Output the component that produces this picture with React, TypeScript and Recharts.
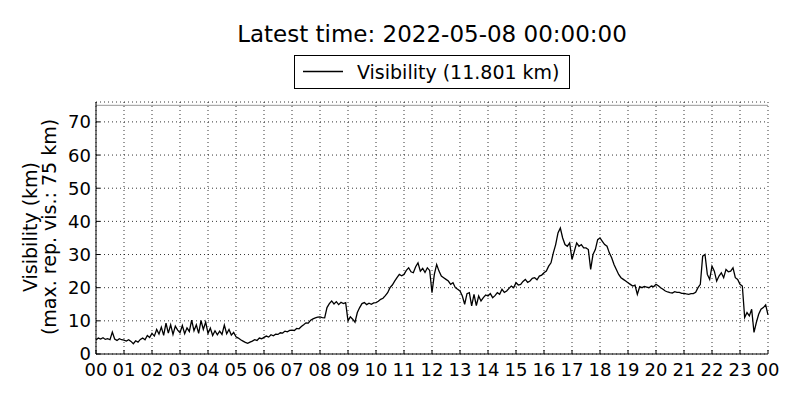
import { CartesianGrid, Label, Line, LineChart, ReferenceLine, XAxis, YAxis } from "recharts"

const FONT = "'DejaVu Sans', sans-serif"

// visibility (km), one reading every 5 minutes from 00:00 to 24:00
const visibility = [
  4.2, 4.8, 4.5, 4.9, 4.4, 4.6, 4.3, 6.6, 4.5, 4.1, 4.6, 4.3,
  4.2, 3.9, 4.3, 3.8, 3.1, 4.0, 3.6, 4.4, 4.8, 4.3, 5.6, 5.0,
  6.2, 5.4, 7.4, 6.0, 8.1, 5.6, 9.3, 6.3, 8.8, 5.9, 8.4, 7.2,
  6.4, 8.6, 6.1, 7.9, 6.8, 10.2, 7.0, 8.8, 6.2, 10.1, 7.4, 9.6,
  6.2, 7.8, 5.6, 7.0, 5.8, 6.9, 5.9, 8.7, 6.1, 7.4, 5.7, 6.5,
  5.2, 4.8, 4.3, 3.9, 3.5, 3.2, 3.6, 3.9, 4.3, 4.1, 4.8, 4.6,
  5.0, 5.4, 5.1, 5.8, 5.5, 6.0, 5.9, 6.4, 6.3, 6.9, 6.7, 7.1,
  7.2, 7.1, 7.7, 7.6, 8.3, 8.8, 9.4, 9.3, 10.2, 10.6, 10.9, 11.1,
  11.2, 11.0, 10.9, 14.0, 15.2, 16.0, 15.1, 15.8, 14.9, 15.6, 15.2, 15.5,
  10.0, 11.2, 10.5, 9.6, 12.5, 14.0, 15.2, 15.5, 14.9, 15.3, 15.0, 15.4,
  15.5, 15.9, 16.5, 16.8, 17.6, 18.5, 20.0, 20.8, 22.0, 23.0, 24.0, 23.6,
  24.0, 25.2, 26.0, 24.8, 24.5, 26.3, 27.5, 25.0, 25.8, 24.6, 26.0, 25.2,
  18.5, 24.0, 27.0, 25.0, 23.5, 23.0, 22.5, 22.0, 21.0, 21.5, 20.0, 19.5,
  19.0, 17.5, 15.0, 18.2, 18.5, 14.5, 18.0, 14.6, 17.5, 16.0, 17.0, 17.8,
  17.5, 18.2, 17.0, 17.6, 18.5, 18.0, 19.5, 18.6, 19.0, 19.8, 20.5, 20.0,
  21.5, 20.8, 21.0, 21.9, 22.5, 21.6, 22.0, 22.8, 23.0, 22.4, 23.5, 23.8,
  24.5, 25.0, 26.5, 27.5, 30.5, 33.0, 36.5, 38.0, 35.0, 33.0, 32.5, 33.5,
  28.5, 31.0, 33.5, 32.5, 33.0, 32.0, 32.0, 31.5, 25.5, 30.0, 31.5, 34.5,
  35.0, 34.0, 33.0, 32.5, 30.5, 29.0, 27.0, 25.5, 24.0, 23.0, 22.5, 22.0,
  21.5, 21.0, 20.5, 20.8, 18.0, 20.3, 20.0, 20.4, 20.2, 20.0, 20.5, 20.3,
  21.0, 20.6, 20.0, 19.5, 19.0, 18.7, 18.5, 18.4, 18.8, 18.6, 18.6, 18.3,
  18.3, 18.1, 18.0, 18.2, 18.2, 18.6, 20.0, 21.0, 29.5, 30.0, 24.0, 22.5,
  26.5, 25.0, 22.0, 23.5, 24.5, 23.0, 25.5, 24.8, 25.0, 26.0, 23.0, 22.5,
  21.0, 20.5, 11.0, 12.5, 11.5, 13.5, 6.5, 9.5, 12.0, 13.5, 14.0, 14.8,
  11.8,
]

const hourTicks = [0, 1, 2, 3, 4, 5, 6, 7, 8, 9, 10, 11, 12, 13, 14, 15, 16, 17, 18, 19, 20, 21, 22, 23, 24]
const valueTicks = [0, 10, 20, 30, 40, 50, 60, 70]
const maxReported = 75

const title = "Latest time: 2022-05-08 00:00:00"
const legendLabel = "Visibility (11.801 km)"
const yLabel = ["Visibility (km)", "(max. rep. vis.: 75 km)"]

const data = visibility.map((v, i) => ({ hour: i / 12, visibility: v }))

const hourLabel = (h: number) => String(h % 24).padStart(2, "0")

const BottomTick = (props: any) => {
  const { x, y, payload } = props
  return (
    <g>
      <line x1={x} x2={x} y1={y - 8} y2={y - 12} stroke="#000" />
      <text x={x} y={y} dy="0.76em" textAnchor="middle" fontFamily={FONT} fontSize={18} fill="#000">
        {hourLabel(payload.value)}
      </text>
    </g>
  )
}

const TopTick = (props: any) => {
  const { x, y } = props
  return <line x1={x} x2={x} y1={y} y2={y + 4} stroke="#000" />
}

const LeftTick = (props: any) => {
  const { x, y, payload } = props
  return (
    <g>
      <line x1={x + 5} x2={x + 9} y1={y} y2={y} stroke="#000" />
      <text x={x} y={y} dy="0.36em" textAnchor="end" fontFamily={FONT} fontSize={18} fill="#000">
        {payload.value}
      </text>
    </g>
  )
}

const RightTick = (props: any) => {
  const { x, y } = props
  return <line x1={x} x2={x - 4} y1={y} y2={y} stroke="#000" />
}

export default function App() {
  return (
    <div style={{ position: "absolute", left: 0, top: 0, width: 800, height: 400, background: "#fff" }}>
      <LineChart width={800} height={400} data={data} margin={{ top: 102, right: 32, bottom: 0, left: 0 }}>
        <CartesianGrid stroke="#000" strokeWidth={0.8} strokeDasharray="1 3" />
        <XAxis
          dataKey="hour"
          type="number"
          domain={[0, 24]}
          ticks={hourTicks}
          height={46}
          tickSize={0}
          tickMargin={8}
          tickLine={false}
          axisLine={{ stroke: "#000" }}
          tick={BottomTick}
          interval={0}
        />
        <XAxis
          xAxisId="top"
          orientation="top"
          type="number"
          domain={[0, 24]}
          ticks={hourTicks}
          height={0}
          tickSize={0}
          tickMargin={0}
          tickLine={false}
          axisLine={{ stroke: "#000" }}
          tick={TopTick}
          interval={0}
        />
        <YAxis
          type="number"
          domain={[0, 76]}
          ticks={valueTicks}
          width={96}
          tickSize={0}
          tickMargin={5}
          tickLine={false}
          axisLine={{ stroke: "#000" }}
          tick={LeftTick}
          interval={0}
        >
          <Label
            content={() => (
              <g fontFamily={FONT} fontSize={19} fill="#000">
                <text transform="rotate(-90)" x={-227} y={37} textAnchor="middle">{yLabel[0]}</text>
                <text transform="rotate(-90)" x={-227} y={56} textAnchor="middle">{yLabel[1]}</text>
              </g>
            )}
          />
        </YAxis>
        <YAxis
          yAxisId="right"
          orientation="right"
          type="number"
          domain={[0, 76]}
          ticks={valueTicks}
          width={0}
          tickSize={0}
          tickMargin={0}
          tickLine={false}
          axisLine={{ stroke: "#000" }}
          tick={RightTick}
          interval={0}
        />
        <ReferenceLine y={maxReported} stroke="#999" strokeWidth={1} />
        <Line
          type="linear"
          dataKey="visibility"
          stroke="#000"
          strokeWidth={1.3}
          dot={false}
          isAnimationActive={false}
        />
      </LineChart>
      <svg
        width={800}
        height={100}
        style={{ position: "absolute", left: 0, top: 0, pointerEvents: "none" }}
        fontFamily={FONT}
      >
        <text x={432} y={42} textAnchor="middle" fontSize={23} fill="#000">{title}</text>
        <rect x={294.5} y={55.5} width={275} height={33} fill="#fff" stroke="#000" />
        <line x1={303} x2={343} y1={71.5} y2={71.5} stroke="#000" strokeWidth={1.3} />
        <text x={357} y={79} fontSize={19} fill="#000">{legendLabel}</text>
      </svg>
    </div>
  )
}
